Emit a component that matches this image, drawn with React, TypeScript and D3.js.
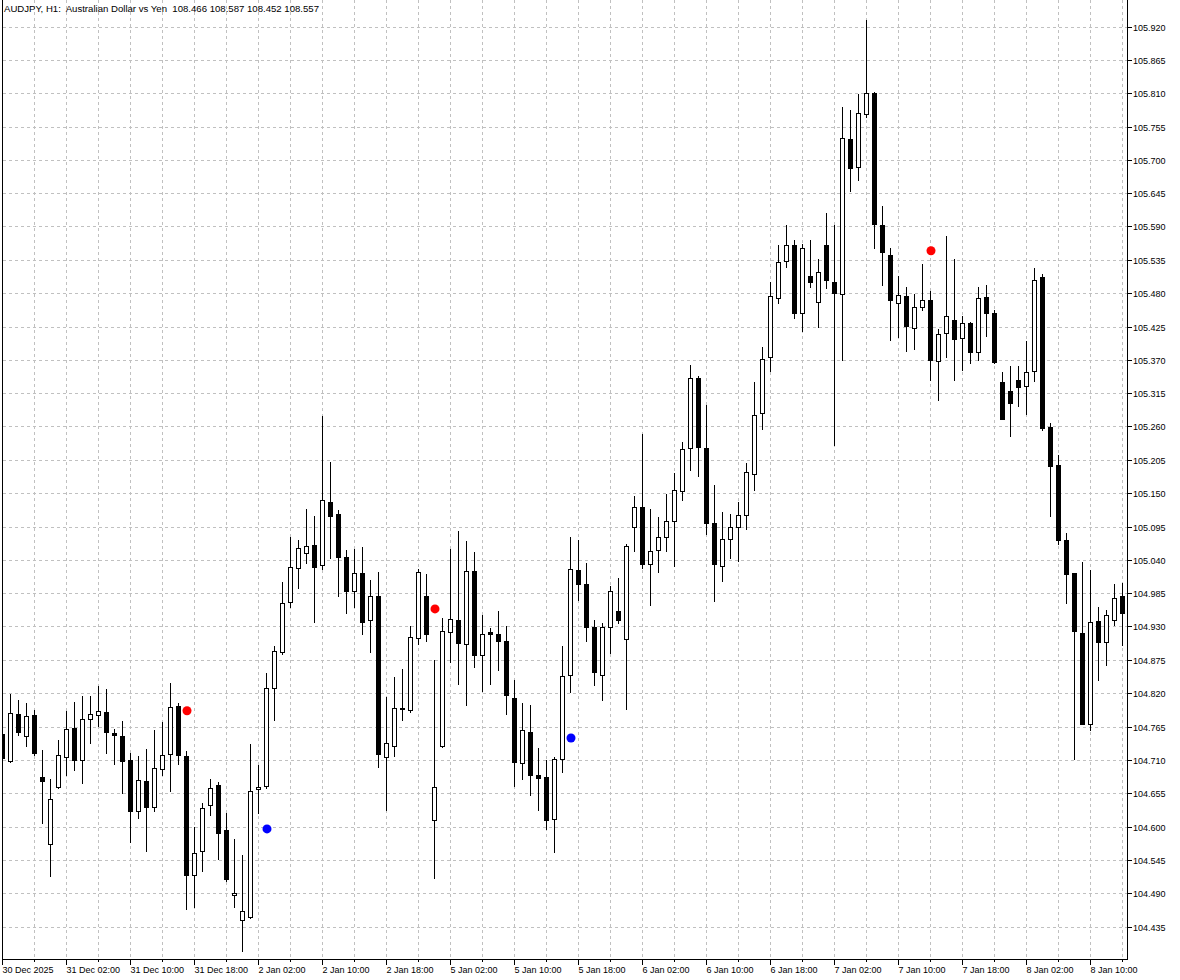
import React from "react";
import * as d3 from "d3";

const opens = [104.752,104.708,104.786,104.749,104.784,104.682,104.571,104.665,104.715,104.763,104.710,104.778,104.784,104.789,104.755,104.750,104.709,104.626,104.675,104.632,104.695,104.720,104.799,104.717,104.520,104.559,104.635,104.668,104.594,104.487,104.445,104.450,104.662,104.667,104.828,104.888,104.971,105.027,105.051,105.064,105.031,105.135,105.115,105.044,104.988,105.018,104.940,104.980,104.715,104.733,104.795,104.793,104.911,104.981,104.611,104.733,104.921,104.941,104.901,105.022,104.883,104.921,104.918,104.906,104.812,104.705,104.756,104.685,104.681,104.613,104.712,104.850,105.024,105.000,104.929,104.850,104.929,104.956,104.910,105.095,105.127,105.033,105.056,105.078,105.104,105.154,105.225,105.340,105.225,105.101,105.030,105.074,105.095,105.114,105.182,105.283,105.374,105.472,105.533,105.560,105.447,105.509,105.465,105.560,105.499,105.479,105.735,105.688,105.775,105.811,105.593,105.543,105.464,105.475,105.423,105.457,105.469,105.368,105.415,105.435,105.406,105.431,105.383,105.474,105.448,105.333,105.318,105.337,105.327,105.351,105.507,105.259,105.197,105.073,105.018,104.920,104.769,104.939,104.905,104.940,104.980];
const highs = [104.770,104.818,104.808,104.803,104.793,104.726,104.679,104.742,104.791,104.806,104.815,104.816,104.831,104.827,104.761,104.774,104.722,104.716,104.728,104.760,104.773,104.837,104.804,104.724,104.600,104.639,104.678,104.673,104.622,104.580,104.553,104.736,104.702,104.853,104.897,105.003,105.077,105.073,105.124,105.112,105.277,105.202,105.122,105.056,105.058,105.061,105.007,105.020,104.813,104.847,104.860,104.931,105.025,105.016,104.874,104.944,105.058,105.088,105.071,105.053,104.949,104.928,104.956,104.931,104.841,104.803,104.800,104.729,104.709,104.714,104.897,105.077,105.072,105.034,104.940,104.936,104.997,105.010,105.066,105.146,105.248,105.124,105.111,105.149,105.184,105.235,105.362,105.343,105.295,105.164,105.119,105.116,105.135,105.200,105.334,105.392,105.499,105.560,105.593,105.567,105.561,105.567,105.536,105.613,105.592,105.788,105.783,105.808,105.930,105.812,105.623,105.555,105.509,105.490,105.479,105.528,105.483,105.421,105.575,105.536,105.443,105.432,105.490,105.494,105.452,105.350,105.360,105.360,105.401,105.522,105.512,105.265,105.213,105.084,105.019,105.036,105.024,104.962,104.958,105.000,105.002];
const lows = [104.700,104.706,104.751,104.733,104.718,104.605,104.518,104.664,104.685,104.693,104.672,104.737,104.766,104.721,104.703,104.655,104.574,104.614,104.560,104.626,104.685,104.658,104.703,104.464,104.467,104.527,104.619,104.547,104.510,104.467,104.394,104.449,104.623,104.663,104.776,104.885,104.963,104.993,105.034,104.938,105.025,105.043,104.981,104.953,104.962,104.918,104.888,104.699,104.628,104.716,104.776,104.789,104.901,104.906,104.515,104.732,104.871,104.835,104.801,104.863,104.823,104.835,104.859,104.785,104.667,104.678,104.652,104.627,104.596,104.558,104.690,104.822,104.973,104.906,104.834,104.809,104.887,104.936,104.794,105.054,105.026,104.966,105.020,105.054,105.030,105.139,105.189,105.178,105.082,104.972,105.005,105.043,105.038,105.091,105.155,105.256,105.351,105.464,105.524,105.439,105.417,105.490,105.424,105.489,105.229,105.369,105.648,105.667,105.770,105.554,105.493,105.403,105.407,105.384,105.388,105.452,105.336,105.304,105.374,105.337,105.354,105.364,105.370,105.409,105.365,105.272,105.245,105.293,105.280,105.335,105.254,105.113,105.066,104.969,104.712,104.769,104.760,104.842,104.867,104.933,104.900];
const closes = [104.713,104.788,104.756,104.783,104.721,104.675,104.646,104.718,104.761,104.709,104.778,104.786,104.791,104.756,104.751,104.708,104.626,104.677,104.632,104.697,104.718,104.797,104.718,104.520,104.557,104.630,104.663,104.590,104.514,104.490,104.460,104.658,104.666,104.828,104.889,104.968,105.028,105.060,105.063,105.029,105.138,105.113,105.044,104.989,105.019,104.937,104.981,104.719,104.737,104.796,104.794,104.913,105.020,104.918,104.665,104.923,104.943,104.903,105.022,104.883,104.918,104.918,104.906,104.817,104.706,104.759,104.685,104.680,104.610,104.712,104.849,105.025,105.000,104.929,104.855,104.929,104.988,104.941,105.063,105.127,105.033,105.054,105.078,105.104,105.156,105.223,105.340,105.226,105.101,105.033,105.075,105.094,105.114,105.185,105.279,105.372,105.475,105.532,105.560,105.447,105.555,105.498,105.515,105.502,105.480,105.736,105.686,105.778,105.811,105.594,105.548,105.469,105.477,105.426,105.457,105.469,105.370,105.413,105.442,105.405,105.431,105.383,105.472,105.447,105.366,105.273,105.298,105.326,105.350,105.502,105.257,105.195,105.072,105.016,104.922,104.769,104.937,104.905,104.949,104.977,104.953];

const redDotIndex = [23, 54, 116];
const redDotPrice = [104.791, 104.959, 105.55];
const blueDotIndex = [33, 71];
const blueDotPrice = [104.596, 104.746];

const timeLabels = ["30 Dec 2025","31 Dec 02:00","31 Dec 10:00","31 Dec 18:00","2 Jan 02:00","2 Jan 10:00","2 Jan 18:00","5 Jan 02:00","5 Jan 10:00","5 Jan 18:00","6 Jan 02:00","6 Jan 10:00","6 Jan 18:00","7 Jan 02:00","7 Jan 10:00","7 Jan 18:00","8 Jan 02:00","8 Jan 10:00"];
const priceTicks = ["104.435","104.490","104.545","104.600","104.655","104.710","104.765","104.820","104.875","104.930","104.985","105.040","105.095","105.150","105.205","105.260","105.315","105.370","105.425","105.480","105.535","105.590","105.645","105.700","105.755","105.810","105.865","105.920"];
const headerText = "AUDJPY, H1:  Australian Dollar vs Yen  108.466 108.587 108.452 108.557";

const W = 1180, H = 980;
const LEFT = 2.5, RIGHT = 1127.5, BOTTOM = 959.5;
const FONT = "'Liberation Sans', Arial, sans-serif";

export default function App() {
  const n = opens.length;
  const x = d3.scaleLinear().domain([0, n - 1]).range([2.5, 2.5 + 8 * (n - 1)]);
  const y = d3.scaleLinear().domain([104.435, 105.92]).range([926.5, 26.5]);
  const gridIdx = d3.range(0, n, 4);
  const labelIdx = timeLabels.map((_, i) => i * 8);
  const grid = "#c0c0c0";

  return (
    <svg width={W} height={H} style={{ position: "absolute", left: 0, top: 0, background: "#fff" }} shapeRendering="crispEdges">
      <defs>
        <clipPath id="plot"><rect x={3} y={0} width={1124} height={959} /></clipPath>
      </defs>
      <rect x={0} y={0} width={W} height={H} fill="#fff" />
      {/* grid */}
      <g stroke={grid} strokeDasharray="3,3" strokeWidth={1}>
        {priceTicks.map((t) => {
          const yy = Math.round(y(+t)) + 0.5;
          return <line key={t} x1={3} x2={1127} y1={yy} y2={yy} />;
        })}
        {gridIdx.filter((k) => k > 0).map((k) => (
          <line key={k} x1={x(k)} x2={x(k)} y1={0} y2={959} />
        ))}
      </g>
      {/* header */}
      <text x={4} y={12} fontFamily={FONT} fontSize={9.6} fill="#000" style={{ whiteSpace: "pre" }}>{headerText}</text>
      {/* candles */}
      <g clipPath="url(#plot)">
        {opens.map((o, k) => {
          const c = closes[k];
          const cx = x(k);
          const top = Math.round(y(Math.max(o, c)));
          const bot = Math.round(y(Math.min(o, c)));
          const bull = c >= o;
          return (
            <g key={k}>
              <line x1={cx} x2={cx} y1={Math.round(y(highs[k]))} y2={Math.round(y(lows[k])) + 1} stroke="#000" />
              <rect x={cx - 2} y={top + 0.5} width={4} height={Math.max(1, bot - top)} fill={bull ? "#fff" : "#000"} stroke="#000" />
            </g>
          );
        })}
        {redDotIndex.map((k, i) => (
          <circle key={"r" + k} cx={x(k) + 0.5} cy={y(redDotPrice[i])} r={4.5} fill="#ff0000" shapeRendering="auto" />
        ))}
        {blueDotIndex.map((k, i) => (
          <circle key={"b" + k} cx={x(k) + 0.5} cy={y(blueDotPrice[i])} r={4.5} fill="#0000ff" shapeRendering="auto" />
        ))}
      </g>
      {/* frame */}
      <g stroke="#000" strokeWidth={1}>
        <line x1={LEFT} x2={LEFT} y1={0} y2={BOTTOM} />
        <line x1={LEFT} x2={RIGHT} y1={BOTTOM} y2={BOTTOM} />
        <line x1={RIGHT} x2={RIGHT} y1={0} y2={BOTTOM} />
      </g>
      {/* bottom axis */}
      <g stroke="#000">
        {gridIdx.map((k) => (
          <line key={k} x1={x(k)} x2={x(k)} y1={960} y2={k % 8 === 0 ? 965 : 962} />
        ))}
      </g>
      {labelIdx.map((k, i) => (
        <text key={k} x={x(k)} y={973} fontFamily={FONT} fontSize={9} fill="#000">{timeLabels[i]}</text>
      ))}
      {/* right axis */}
      {priceTicks.map((t) => {
        const yy = Math.round(y(+t)) + 0.5;
        return (
          <g key={t}>
            <line x1={1128} x2={1132} y1={yy} y2={yy} stroke="#000" />
            <text x={1133} y={yy + 3} fontFamily={FONT} fontSize={9} fill="#000">{t}</text>
          </g>
        );
      })}
    </svg>
  );
}
